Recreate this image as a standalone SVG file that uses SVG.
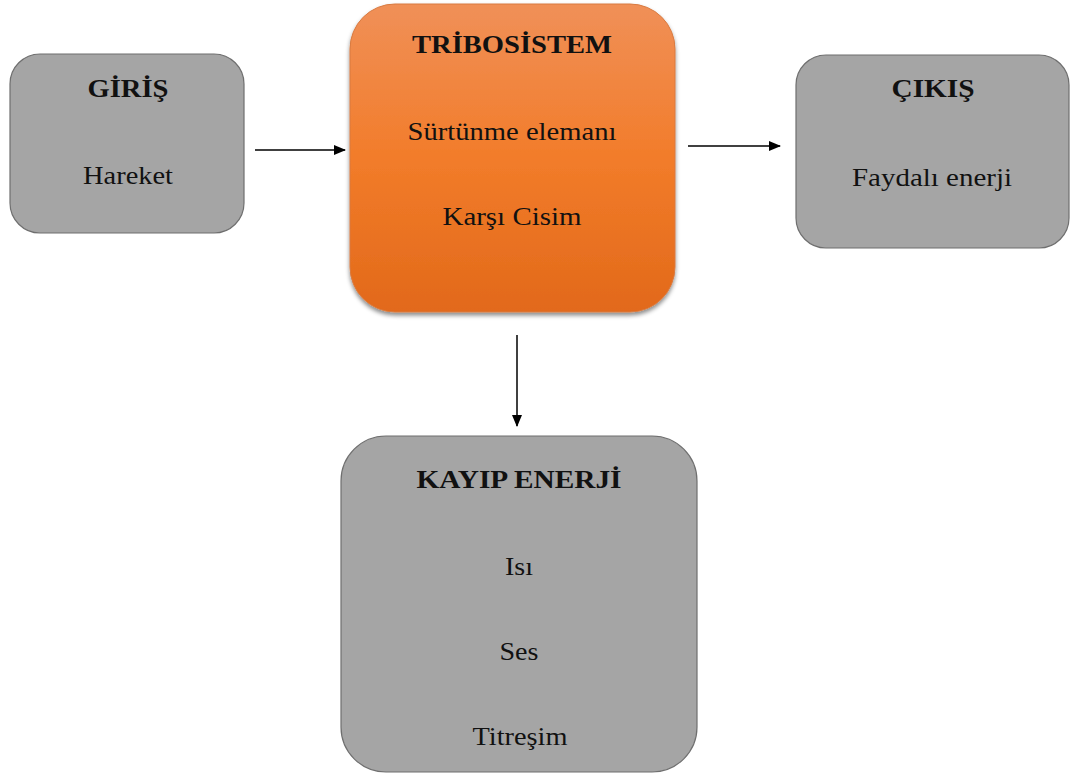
<svg xmlns="http://www.w3.org/2000/svg" width="1077" height="774" viewBox="0 0 1077 774">
<style>
.box{fill:#a5a5a5;stroke:#6f6f6f;stroke-width:1.2}
text{font-family:"Liberation Serif","Times New Roman",serif;font-size:26px;fill:#111;text-anchor:middle}
.t{font-weight:bold}
.c{stroke:#000;stroke-width:1.5;fill:none;marker-end:url(#ah)}
</style>
<defs>
<linearGradient id="og" x1="0" y1="0" x2="0" y2="1">
<stop offset="0" stop-color="#f09058"/>
<stop offset="0.5" stop-color="#f27c2a"/>
<stop offset="1" stop-color="#e2691a"/>
</linearGradient>
<filter id="sh" x="-10%" y="-10%" width="120%" height="120%">
<feDropShadow dx="0" dy="3" stdDeviation="2" flood-color="#000" flood-opacity="0.45"/>
</filter>
<marker id="ah" markerWidth="12" markerHeight="12" refX="11" refY="6" orient="auto" markerUnits="userSpaceOnUse">
<path d="M0,1 L12,6 L0,11 Z" fill="#000"/>
</marker>
</defs>
<g id="connectors">
<line class="c" x1="255" y1="150" x2="345" y2="150"/>
<line class="c" x1="688" y1="146" x2="780" y2="146"/>
<line class="c" x1="517" y1="335" x2="517" y2="426"/>
</g>
<g id="giris">
<rect class="box" x="10" y="54" width="234" height="179" rx="30"/>
<text class="t" x="128" y="97" textLength="81" lengthAdjust="spacingAndGlyphs">GİRİŞ</text>
<text x="128" y="184" textLength="90" lengthAdjust="spacingAndGlyphs">Hareket</text>
</g>
<g id="tribosistem">
<rect x="350" y="4" width="325" height="308" rx="45" fill="url(#og)" stroke="#d87a40" stroke-width="1" filter="url(#sh)"/>
<text class="t" x="512" y="53" textLength="200" lengthAdjust="spacingAndGlyphs">TRİBOSİSTEM</text>
<text x="512" y="140" textLength="209" lengthAdjust="spacingAndGlyphs">Sürtünme elemanı</text>
<text x="512" y="225" textLength="139" lengthAdjust="spacingAndGlyphs">Karşı Cisim</text>
</g>
<g id="cikis">
<rect class="box" x="796" y="55" width="273" height="193" rx="30"/>
<text class="t" x="933" y="97" textLength="83" lengthAdjust="spacingAndGlyphs">ÇIKIŞ</text>
<text x="932" y="186" textLength="160" lengthAdjust="spacingAndGlyphs">Faydalı enerji</text>
</g>
<g id="kayip">
<rect class="box" x="341" y="436" width="356" height="336" rx="45"/>
<text class="t" x="519" y="488" textLength="205" lengthAdjust="spacingAndGlyphs">KAYIP ENERJİ</text>
<text x="519" y="575" textLength="28" lengthAdjust="spacingAndGlyphs">Isı</text>
<text x="519" y="660" textLength="39" lengthAdjust="spacingAndGlyphs">Ses</text>
<text x="520" y="745" textLength="95" lengthAdjust="spacingAndGlyphs">Titreşim</text>
</g>
</svg>
